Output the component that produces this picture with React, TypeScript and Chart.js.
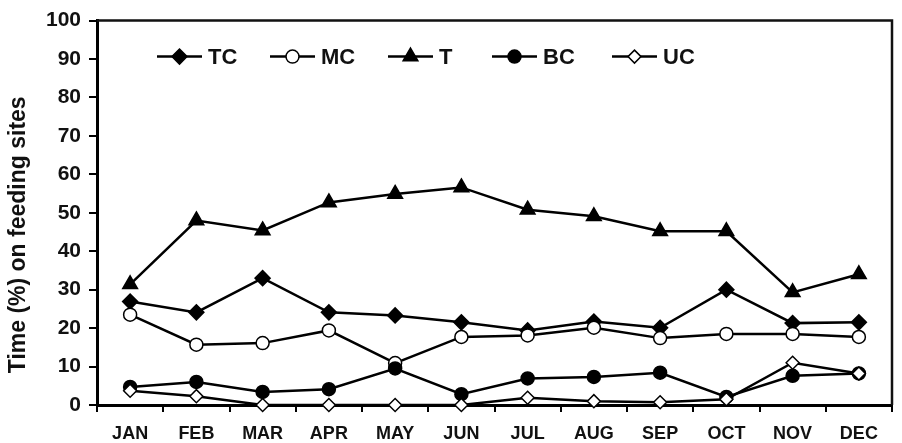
import React, { useEffect, useRef } from "react";
import { Chart, registerables } from "chart.js";

Chart.register(...registerables);

const months = ["JAN", "FEB", "MAR", "APR", "MAY", "JUN", "JUL", "AUG", "SEP", "OCT", "NOV", "DEC"];
const seriesNames = ["TC", "MC", "T", "BC", "UC"];
const tcValues = [26.9, 24.1, 33.0, 24.1, 23.3, 21.5, 19.4, 21.7, 20.1, 30.0, 21.3, 21.5];
const mcValues = [23.5, 15.7, 16.1, 19.4, 10.9, 17.7, 18.1, 20.1, 17.4, 18.5, 18.5, 17.7];
const tValues = [31.4, 48.0, 45.4, 52.7, 54.9, 56.6, 50.8, 49.1, 45.2, 45.2, 29.3, 34.0];
const bcValues = [4.7, 6.0, 3.4, 4.1, 9.5, 2.8, 6.9, 7.3, 8.4, 2.1, 7.6, 8.2];
const ucValues = [3.7, 2.3, 0, 0, 0, 0, 1.9, 1.0, 0.7, 1.5, 11.0, 8.2];
const yTitle = "Time (%) on feeding sites";

const FONT = '"Liberation Sans", Arial, Helvetica, sans-serif';

type MarkerStyle = { shape: string; radius: number; fill: string };
const markers: MarkerStyle[] = [
  { shape: "rectRot", radius: 7.5, fill: "#000" },
  { shape: "circle", radius: 6.5, fill: "#fff" },
  { shape: "triangle", radius: 8.5, fill: "#000" },
  { shape: "circle", radius: 6.5, fill: "#000" },
  { shape: "rectRot", radius: 6.5, fill: "#fff" },
];
const legendOffsets = [60, 173, 291, 395, 515];

function drawMarker(ctx: CanvasRenderingContext2D, m: MarkerStyle, x: number, y: number) {
  const r = m.radius;
  ctx.beginPath();
  if (m.shape === "circle") {
    ctx.arc(x, y, r, 0, Math.PI * 2);
  } else if (m.shape === "rectRot") {
    ctx.moveTo(x, y - r);
    ctx.lineTo(x + r, y);
    ctx.lineTo(x, y + r);
    ctx.lineTo(x - r, y);
  } else {
    const a = -Math.PI / 2;
    for (let i = 0; i < 3; i++) {
      const ang = a + (i * 2 * Math.PI) / 3;
      const px = x + Math.cos(ang) * r;
      const py = y + Math.sin(ang) * r;
      if (i === 0) ctx.moveTo(px, py);
      else ctx.lineTo(px, py);
    }
  }
  ctx.closePath();
  ctx.fillStyle = m.fill;
  ctx.fill();
  ctx.lineWidth = 1.5;
  ctx.strokeStyle = "#000";
  ctx.stroke();
}

const framePlugin = {
  id: "frame",
  afterDraw(chart: any) {
    const { ctx, chartArea } = chart;
    ctx.save();
    ctx.strokeStyle = "#111";
    ctx.lineWidth = 2.5;
    ctx.beginPath();
    ctx.moveTo(chartArea.left, chartArea.top);
    ctx.lineTo(chartArea.right, chartArea.top);
    ctx.lineTo(chartArea.right, chartArea.bottom);
    ctx.stroke();
    ctx.restore();
  },
};

const yTitlePlugin = {
  id: "yTitleDraw",
  afterDraw(chart: any) {
    const { ctx, chartArea } = chart;
    ctx.save();
    ctx.translate(19, (chartArea.top + chartArea.bottom) / 2 + 22);
    ctx.rotate(-Math.PI / 2);
    ctx.fillStyle = "#111";
    ctx.font = `bold 23px ${FONT}`;
    ctx.textAlign = "center";
    ctx.textBaseline = "middle";
    ctx.fillText(yTitle, 0, 0);
    ctx.restore();
  },
};

const insideLegend = {
  id: "insideLegend",
  afterDraw(chart: any) {
    const { ctx, chartArea } = chart;
    const y = chartArea.top + 36;
    ctx.save();
    chart.data.datasets.forEach((ds: any, i: number) => {
      const x0 = chartArea.left + legendOffsets[i];
      const lineLen = 45;
      ctx.strokeStyle = "#000";
      ctx.lineWidth = 2.5;
      ctx.beginPath();
      ctx.moveTo(x0, y);
      ctx.lineTo(x0 + lineLen, y);
      ctx.stroke();
      drawMarker(ctx, markers[i], x0 + lineLen / 2, y);
      ctx.fillStyle = "#111";
      ctx.font = `bold 22px ${FONT}`;
      ctx.textBaseline = "middle";
      ctx.textAlign = "left";
      ctx.fillText(ds.label, x0 + lineLen + 6, y + 1);
    });
    ctx.restore();
  },
};

export default function App() {
  const canvasRef = useRef<HTMLCanvasElement | null>(null);

  useEffect(() => {
    if (!canvasRef.current) return;
    const values = [tcValues, mcValues, tValues, bcValues, ucValues];
    const orders = [5, 4, 3, 2, 1];
    const datasets = seriesNames.map((name, i) => ({
      label: name,
      data: values[i],
      borderColor: "#000",
      borderWidth: 2.5,
      pointStyle: markers[i].shape,
      pointRadius: markers[i].radius,
      pointHoverRadius: markers[i].radius,
      pointBackgroundColor: markers[i].fill,
      pointBorderColor: "#000",
      pointBorderWidth: 1.5,
      tension: 0,
      fill: false,
      clip: false,
      order: orders[i],
    }));

    const chart = new Chart(canvasRef.current, {
      type: "line",
      data: { labels: months, datasets },
      options: {
        animation: false,
        responsive: true,
        maintainAspectRatio: false,
        layout: { padding: { top: 19, right: 2, left: 0, bottom: 0 } },
        plugins: {
          legend: { display: false },
          tooltip: { enabled: false },
        },
        scales: {
          x: {
            type: "category",
            offset: true,
            grid: {
              offset: true,
              drawOnChartArea: false,
              drawTicks: true,
              tickLength: 7,
              color: "#000",
              lineWidth: 2,
            },
            border: { display: true, color: "#000", width: 3 },
            ticks: {
              color: "#111",
              font: { family: FONT, size: 18, weight: "bold" },
              padding: 11,
              maxRotation: 0,
              autoSkip: false,
            },
            afterFit: (scale: any) => {
              scale.height = 38;
            },
          },
          y: {
            min: 0,
            max: 100,
            grid: {
              drawOnChartArea: false,
              drawTicks: true,
              tickLength: 8,
              color: "#000",
              lineWidth: 2,
            },
            border: { display: true, color: "#000", width: 3 },
            ticks: {
              stepSize: 10,
              color: "#111",
              font: { family: FONT, size: 21, weight: "bold" },
              padding: 8,
            },
            afterFit: (scale: any) => {
              scale.width = 97;
            },
          },
        },
      },
      plugins: [framePlugin, insideLegend, yTitlePlugin],
    });
    return () => chart.destroy();
  }, []);

  return (
    <div style={{ position: "fixed", left: 0, top: 0, width: 902, height: 443, background: "#fff" }}>
      <canvas ref={canvasRef} />
    </div>
  );
}
